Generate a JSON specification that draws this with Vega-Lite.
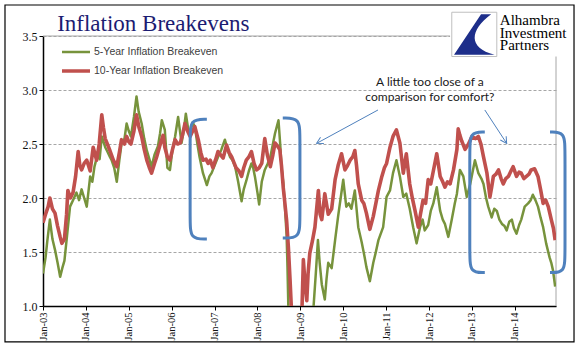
{
  "$schema": "https://vega.github.io/schema/vega-lite/v6.json",
  "width": 513,
  "height": 270,
  "autosize": {"type": "none"},
  "padding": {"left": 43, "top": 36, "right": 27, "bottom": 55},
  "background": "white",
  "config": {"view": {"stroke": null}},
  "datasets": {
    "lines": [
      {"s":"5-Year Inflation Breakeven","x":2003.00,"v":1.30},{"s":"5-Year Inflation Breakeven","x":2003.06,"v":1.45},{"s":"5-Year Inflation Breakeven","x":2003.10,"v":1.60},{"s":"5-Year Inflation Breakeven","x":2003.16,"v":1.80},{"s":"5-Year Inflation Breakeven","x":2003.22,"v":1.62},{"s":"5-Year Inflation Breakeven","x":2003.28,"v":1.52},{"s":"5-Year Inflation Breakeven","x":2003.34,"v":1.40},{"s":"5-Year Inflation Breakeven","x":2003.40,"v":1.27},{"s":"5-Year Inflation Breakeven","x":2003.45,"v":1.35},{"s":"5-Year Inflation Breakeven","x":2003.50,"v":1.42},{"s":"5-Year Inflation Breakeven","x":2003.56,"v":1.65},{"s":"5-Year Inflation Breakeven","x":2003.63,"v":1.92},{"s":"5-Year Inflation Breakeven","x":2003.70,"v":1.98},{"s":"5-Year Inflation Breakeven","x":2003.78,"v":2.05},{"s":"5-Year Inflation Breakeven","x":2003.84,"v":1.98},{"s":"5-Year Inflation Breakeven","x":2003.90,"v":2.08},{"s":"5-Year Inflation Breakeven","x":2003.96,"v":2.00},{"s":"5-Year Inflation Breakeven","x":2004.02,"v":1.92},{"s":"5-Year Inflation Breakeven","x":2004.10,"v":2.20},{"s":"5-Year Inflation Breakeven","x":2004.15,"v":2.15},{"s":"5-Year Inflation Breakeven","x":2004.20,"v":2.29},{"s":"5-Year Inflation Breakeven","x":2004.27,"v":2.40},{"s":"5-Year Inflation Breakeven","x":2004.32,"v":2.36},{"s":"5-Year Inflation Breakeven","x":2004.37,"v":2.57},{"s":"5-Year Inflation Breakeven","x":2004.45,"v":2.47},{"s":"5-Year Inflation Breakeven","x":2004.50,"v":2.43},{"s":"5-Year Inflation Breakeven","x":2004.56,"v":2.38},{"s":"5-Year Inflation Breakeven","x":2004.60,"v":2.35},{"s":"5-Year Inflation Breakeven","x":2004.66,"v":2.28},{"s":"5-Year Inflation Breakeven","x":2004.72,"v":2.15},{"s":"5-Year Inflation Breakeven","x":2004.78,"v":2.35},{"s":"5-Year Inflation Breakeven","x":2004.83,"v":2.50},{"s":"5-Year Inflation Breakeven","x":2004.90,"v":2.55},{"s":"5-Year Inflation Breakeven","x":2004.95,"v":2.69},{"s":"5-Year Inflation Breakeven","x":2005.00,"v":2.62},{"s":"5-Year Inflation Breakeven","x":2005.05,"v":2.57},{"s":"5-Year Inflation Breakeven","x":2005.12,"v":2.75},{"s":"5-Year Inflation Breakeven","x":2005.18,"v":2.94},{"s":"5-Year Inflation Breakeven","x":2005.23,"v":2.80},{"s":"5-Year Inflation Breakeven","x":2005.30,"v":2.69},{"s":"5-Year Inflation Breakeven","x":2005.36,"v":2.55},{"s":"5-Year Inflation Breakeven","x":2005.42,"v":2.44},{"s":"5-Year Inflation Breakeven","x":2005.48,"v":2.36},{"s":"5-Year Inflation Breakeven","x":2005.53,"v":2.29},{"s":"5-Year Inflation Breakeven","x":2005.60,"v":2.40},{"s":"5-Year Inflation Breakeven","x":2005.68,"v":2.48},{"s":"5-Year Inflation Breakeven","x":2005.73,"v":2.60},{"s":"5-Year Inflation Breakeven","x":2005.77,"v":2.72},{"s":"5-Year Inflation Breakeven","x":2005.84,"v":2.63},{"s":"5-Year Inflation Breakeven","x":2005.90,"v":2.28},{"s":"5-Year Inflation Breakeven","x":2005.96,"v":2.26},{"s":"5-Year Inflation Breakeven","x":2006.02,"v":2.45},{"s":"5-Year Inflation Breakeven","x":2006.08,"v":2.57},{"s":"5-Year Inflation Breakeven","x":2006.15,"v":2.75},{"s":"5-Year Inflation Breakeven","x":2006.23,"v":2.51},{"s":"5-Year Inflation Breakeven","x":2006.28,"v":2.62},{"s":"5-Year Inflation Breakeven","x":2006.33,"v":2.78},{"s":"5-Year Inflation Breakeven","x":2006.38,"v":2.65},{"s":"5-Year Inflation Breakeven","x":2006.43,"v":2.60},{"s":"5-Year Inflation Breakeven","x":2006.49,"v":2.70},{"s":"5-Year Inflation Breakeven","x":2006.54,"v":2.66},{"s":"5-Year Inflation Breakeven","x":2006.60,"v":2.50},{"s":"5-Year Inflation Breakeven","x":2006.65,"v":2.38},{"s":"5-Year Inflation Breakeven","x":2006.73,"v":2.23},{"s":"5-Year Inflation Breakeven","x":2006.82,"v":2.12},{"s":"5-Year Inflation Breakeven","x":2006.88,"v":2.20},{"s":"5-Year Inflation Breakeven","x":2006.93,"v":2.23},{"s":"5-Year Inflation Breakeven","x":2007.00,"v":2.30},{"s":"5-Year Inflation Breakeven","x":2007.08,"v":2.38},{"s":"5-Year Inflation Breakeven","x":2007.16,"v":2.45},{"s":"5-Year Inflation Breakeven","x":2007.24,"v":2.54},{"s":"5-Year Inflation Breakeven","x":2007.30,"v":2.45},{"s":"5-Year Inflation Breakeven","x":2007.36,"v":2.38},{"s":"5-Year Inflation Breakeven","x":2007.42,"v":2.35},{"s":"5-Year Inflation Breakeven","x":2007.48,"v":2.29},{"s":"5-Year Inflation Breakeven","x":2007.55,"v":2.15},{"s":"5-Year Inflation Breakeven","x":2007.63,"v":1.97},{"s":"5-Year Inflation Breakeven","x":2007.68,"v":2.08},{"s":"5-Year Inflation Breakeven","x":2007.74,"v":2.16},{"s":"5-Year Inflation Breakeven","x":2007.80,"v":2.25},{"s":"5-Year Inflation Breakeven","x":2007.86,"v":2.32},{"s":"5-Year Inflation Breakeven","x":2007.90,"v":2.28},{"s":"5-Year Inflation Breakeven","x":2007.94,"v":2.20},{"s":"5-Year Inflation Breakeven","x":2008.00,"v":2.05},{"s":"5-Year Inflation Breakeven","x":2008.04,"v":1.94},{"s":"5-Year Inflation Breakeven","x":2008.10,"v":2.15},{"s":"5-Year Inflation Breakeven","x":2008.17,"v":2.26},{"s":"5-Year Inflation Breakeven","x":2008.24,"v":2.32},{"s":"5-Year Inflation Breakeven","x":2008.30,"v":2.38},{"s":"5-Year Inflation Breakeven","x":2008.36,"v":2.50},{"s":"5-Year Inflation Breakeven","x":2008.41,"v":2.60},{"s":"5-Year Inflation Breakeven","x":2008.49,"v":2.72},{"s":"5-Year Inflation Breakeven","x":2008.53,"v":2.50},{"s":"5-Year Inflation Breakeven","x":2008.56,"v":2.29},{"s":"5-Year Inflation Breakeven","x":2008.60,"v":2.15},{"s":"5-Year Inflation Breakeven","x":2008.64,"v":1.92},{"s":"5-Year Inflation Breakeven","x":2008.68,"v":1.65},{"s":"5-Year Inflation Breakeven","x":2008.70,"v":1.36},{"s":"5-Year Inflation Breakeven","x":2008.73,"v":0.80},{"s":"5-Year Inflation Breakeven","x":2008.80,"v":0.20},{"s":"5-Year Inflation Breakeven","x":2009.00,"v":-0.50},{"s":"5-Year Inflation Breakeven","x":2009.20,"v":0.50},{"s":"5-Year Inflation Breakeven","x":2009.30,"v":0.95},{"s":"5-Year Inflation Breakeven","x":2009.36,"v":1.30},{"s":"5-Year Inflation Breakeven","x":2009.41,"v":1.61},{"s":"5-Year Inflation Breakeven","x":2009.45,"v":1.40},{"s":"5-Year Inflation Breakeven","x":2009.50,"v":1.20},{"s":"5-Year Inflation Breakeven","x":2009.57,"v":1.06},{"s":"5-Year Inflation Breakeven","x":2009.61,"v":1.25},{"s":"5-Year Inflation Breakeven","x":2009.65,"v":1.40},{"s":"5-Year Inflation Breakeven","x":2009.73,"v":1.35},{"s":"5-Year Inflation Breakeven","x":2009.81,"v":1.61},{"s":"5-Year Inflation Breakeven","x":2009.88,"v":1.83},{"s":"5-Year Inflation Breakeven","x":2009.94,"v":2.00},{"s":"5-Year Inflation Breakeven","x":2010.00,"v":2.17},{"s":"5-Year Inflation Breakeven","x":2010.07,"v":1.92},{"s":"5-Year Inflation Breakeven","x":2010.13,"v":1.95},{"s":"5-Year Inflation Breakeven","x":2010.19,"v":1.90},{"s":"5-Year Inflation Breakeven","x":2010.27,"v":2.07},{"s":"5-Year Inflation Breakeven","x":2010.35,"v":1.73},{"s":"5-Year Inflation Breakeven","x":2010.43,"v":1.59},{"s":"5-Year Inflation Breakeven","x":2010.50,"v":1.45},{"s":"5-Year Inflation Breakeven","x":2010.54,"v":1.36},{"s":"5-Year Inflation Breakeven","x":2010.62,"v":1.23},{"s":"5-Year Inflation Breakeven","x":2010.70,"v":1.40},{"s":"5-Year Inflation Breakeven","x":2010.76,"v":1.50},{"s":"5-Year Inflation Breakeven","x":2010.82,"v":1.61},{"s":"5-Year Inflation Breakeven","x":2010.93,"v":1.73},{"s":"5-Year Inflation Breakeven","x":2011.01,"v":2.01},{"s":"5-Year Inflation Breakeven","x":2011.09,"v":2.07},{"s":"5-Year Inflation Breakeven","x":2011.16,"v":2.23},{"s":"5-Year Inflation Breakeven","x":2011.24,"v":2.35},{"s":"5-Year Inflation Breakeven","x":2011.32,"v":2.20},{"s":"5-Year Inflation Breakeven","x":2011.40,"v":2.01},{"s":"5-Year Inflation Breakeven","x":2011.47,"v":2.04},{"s":"5-Year Inflation Breakeven","x":2011.55,"v":1.90},{"s":"5-Year Inflation Breakeven","x":2011.63,"v":1.73},{"s":"5-Year Inflation Breakeven","x":2011.71,"v":1.58},{"s":"5-Year Inflation Breakeven","x":2011.79,"v":1.73},{"s":"5-Year Inflation Breakeven","x":2011.85,"v":1.80},{"s":"5-Year Inflation Breakeven","x":2011.90,"v":1.70},{"s":"5-Year Inflation Breakeven","x":2011.98,"v":1.75},{"s":"5-Year Inflation Breakeven","x":2012.04,"v":1.88},{"s":"5-Year Inflation Breakeven","x":2012.10,"v":1.95},{"s":"5-Year Inflation Breakeven","x":2012.18,"v":2.10},{"s":"5-Year Inflation Breakeven","x":2012.26,"v":1.88},{"s":"5-Year Inflation Breakeven","x":2012.32,"v":1.80},{"s":"5-Year Inflation Breakeven","x":2012.37,"v":1.76},{"s":"5-Year Inflation Breakeven","x":2012.45,"v":1.64},{"s":"5-Year Inflation Breakeven","x":2012.53,"v":1.80},{"s":"5-Year Inflation Breakeven","x":2012.60,"v":1.95},{"s":"5-Year Inflation Breakeven","x":2012.65,"v":2.04},{"s":"5-Year Inflation Breakeven","x":2012.72,"v":2.26},{"s":"5-Year Inflation Breakeven","x":2012.80,"v":2.20},{"s":"5-Year Inflation Breakeven","x":2012.88,"v":2.01},{"s":"5-Year Inflation Breakeven","x":2012.96,"v":2.13},{"s":"5-Year Inflation Breakeven","x":2013.02,"v":2.25},{"s":"5-Year Inflation Breakeven","x":2013.07,"v":2.35},{"s":"5-Year Inflation Breakeven","x":2013.15,"v":2.23},{"s":"5-Year Inflation Breakeven","x":2013.22,"v":2.18},{"s":"5-Year Inflation Breakeven","x":2013.27,"v":2.13},{"s":"5-Year Inflation Breakeven","x":2013.33,"v":2.00},{"s":"5-Year Inflation Breakeven","x":2013.38,"v":1.92},{"s":"5-Year Inflation Breakeven","x":2013.46,"v":1.82},{"s":"5-Year Inflation Breakeven","x":2013.52,"v":1.90},{"s":"5-Year Inflation Breakeven","x":2013.58,"v":1.88},{"s":"5-Year Inflation Breakeven","x":2013.64,"v":1.80},{"s":"5-Year Inflation Breakeven","x":2013.70,"v":1.76},{"s":"5-Year Inflation Breakeven","x":2013.76,"v":1.74},{"s":"5-Year Inflation Breakeven","x":2013.81,"v":1.70},{"s":"5-Year Inflation Breakeven","x":2013.87,"v":1.78},{"s":"5-Year Inflation Breakeven","x":2013.93,"v":1.80},{"s":"5-Year Inflation Breakeven","x":2013.98,"v":1.72},{"s":"5-Year Inflation Breakeven","x":2014.04,"v":1.67},{"s":"5-Year Inflation Breakeven","x":2014.10,"v":1.75},{"s":"5-Year Inflation Breakeven","x":2014.15,"v":1.80},{"s":"5-Year Inflation Breakeven","x":2014.23,"v":1.92},{"s":"5-Year Inflation Breakeven","x":2014.31,"v":1.95},{"s":"5-Year Inflation Breakeven","x":2014.37,"v":1.98},{"s":"5-Year Inflation Breakeven","x":2014.42,"v":2.03},{"s":"5-Year Inflation Breakeven","x":2014.48,"v":1.98},{"s":"5-Year Inflation Breakeven","x":2014.54,"v":1.92},{"s":"5-Year Inflation Breakeven","x":2014.60,"v":1.82},{"s":"5-Year Inflation Breakeven","x":2014.66,"v":1.73},{"s":"5-Year Inflation Breakeven","x":2014.73,"v":1.58},{"s":"5-Year Inflation Breakeven","x":2014.81,"v":1.45},{"s":"5-Year Inflation Breakeven","x":2014.85,"v":1.40},{"s":"5-Year Inflation Breakeven","x":2014.89,"v":1.33},{"s":"5-Year Inflation Breakeven","x":2014.94,"v":1.18},
      {"s":"10-Year Inflation Breakeven","x":2003.00,"v":1.77},{"s":"10-Year Inflation Breakeven","x":2003.06,"v":1.85},{"s":"10-Year Inflation Breakeven","x":2003.12,"v":1.92},{"s":"10-Year Inflation Breakeven","x":2003.16,"v":2.00},{"s":"10-Year Inflation Breakeven","x":2003.22,"v":1.90},{"s":"10-Year Inflation Breakeven","x":2003.28,"v":1.86},{"s":"10-Year Inflation Breakeven","x":2003.34,"v":1.74},{"s":"10-Year Inflation Breakeven","x":2003.40,"v":1.64},{"s":"10-Year Inflation Breakeven","x":2003.44,"v":1.58},{"s":"10-Year Inflation Breakeven","x":2003.50,"v":1.62},{"s":"10-Year Inflation Breakeven","x":2003.55,"v":1.85},{"s":"10-Year Inflation Breakeven","x":2003.58,"v":2.07},{"s":"10-Year Inflation Breakeven","x":2003.64,"v":2.00},{"s":"10-Year Inflation Breakeven","x":2003.70,"v":2.05},{"s":"10-Year Inflation Breakeven","x":2003.76,"v":2.20},{"s":"10-Year Inflation Breakeven","x":2003.82,"v":2.43},{"s":"10-Year Inflation Breakeven","x":2003.86,"v":2.30},{"s":"10-Year Inflation Breakeven","x":2003.90,"v":2.26},{"s":"10-Year Inflation Breakeven","x":2003.96,"v":2.32},{"s":"10-Year Inflation Breakeven","x":2004.02,"v":2.35},{"s":"10-Year Inflation Breakeven","x":2004.10,"v":2.25},{"s":"10-Year Inflation Breakeven","x":2004.17,"v":2.47},{"s":"10-Year Inflation Breakeven","x":2004.25,"v":2.35},{"s":"10-Year Inflation Breakeven","x":2004.31,"v":2.50},{"s":"10-Year Inflation Breakeven","x":2004.37,"v":2.77},{"s":"10-Year Inflation Breakeven","x":2004.41,"v":2.65},{"s":"10-Year Inflation Breakeven","x":2004.45,"v":2.55},{"s":"10-Year Inflation Breakeven","x":2004.50,"v":2.50},{"s":"10-Year Inflation Breakeven","x":2004.56,"v":2.44},{"s":"10-Year Inflation Breakeven","x":2004.64,"v":2.35},{"s":"10-Year Inflation Breakeven","x":2004.72,"v":2.29},{"s":"10-Year Inflation Breakeven","x":2004.78,"v":2.42},{"s":"10-Year Inflation Breakeven","x":2004.83,"v":2.54},{"s":"10-Year Inflation Breakeven","x":2004.90,"v":2.50},{"s":"10-Year Inflation Breakeven","x":2004.95,"v":2.57},{"s":"10-Year Inflation Breakeven","x":2005.00,"v":2.52},{"s":"10-Year Inflation Breakeven","x":2005.05,"v":2.50},{"s":"10-Year Inflation Breakeven","x":2005.12,"v":2.62},{"s":"10-Year Inflation Breakeven","x":2005.18,"v":2.77},{"s":"10-Year Inflation Breakeven","x":2005.24,"v":2.65},{"s":"10-Year Inflation Breakeven","x":2005.30,"v":2.57},{"s":"10-Year Inflation Breakeven","x":2005.36,"v":2.45},{"s":"10-Year Inflation Breakeven","x":2005.42,"v":2.35},{"s":"10-Year Inflation Breakeven","x":2005.48,"v":2.28},{"s":"10-Year Inflation Breakeven","x":2005.53,"v":2.23},{"s":"10-Year Inflation Breakeven","x":2005.60,"v":2.32},{"s":"10-Year Inflation Breakeven","x":2005.65,"v":2.38},{"s":"10-Year Inflation Breakeven","x":2005.72,"v":2.48},{"s":"10-Year Inflation Breakeven","x":2005.80,"v":2.58},{"s":"10-Year Inflation Breakeven","x":2005.84,"v":2.47},{"s":"10-Year Inflation Breakeven","x":2005.90,"v":2.38},{"s":"10-Year Inflation Breakeven","x":2005.96,"v":2.35},{"s":"10-Year Inflation Breakeven","x":2006.02,"v":2.45},{"s":"10-Year Inflation Breakeven","x":2006.08,"v":2.54},{"s":"10-Year Inflation Breakeven","x":2006.14,"v":2.50},{"s":"10-Year Inflation Breakeven","x":2006.20,"v":2.51},{"s":"10-Year Inflation Breakeven","x":2006.25,"v":2.58},{"s":"10-Year Inflation Breakeven","x":2006.31,"v":2.69},{"s":"10-Year Inflation Breakeven","x":2006.37,"v":2.62},{"s":"10-Year Inflation Breakeven","x":2006.43,"v":2.57},{"s":"10-Year Inflation Breakeven","x":2006.49,"v":2.62},{"s":"10-Year Inflation Breakeven","x":2006.54,"v":2.66},{"s":"10-Year Inflation Breakeven","x":2006.62,"v":2.54},{"s":"10-Year Inflation Breakeven","x":2006.68,"v":2.42},{"s":"10-Year Inflation Breakeven","x":2006.73,"v":2.35},{"s":"10-Year Inflation Breakeven","x":2006.80,"v":2.36},{"s":"10-Year Inflation Breakeven","x":2006.85,"v":2.32},{"s":"10-Year Inflation Breakeven","x":2006.90,"v":2.35},{"s":"10-Year Inflation Breakeven","x":2006.96,"v":2.28},{"s":"10-Year Inflation Breakeven","x":2007.02,"v":2.35},{"s":"10-Year Inflation Breakeven","x":2007.08,"v":2.43},{"s":"10-Year Inflation Breakeven","x":2007.14,"v":2.40},{"s":"10-Year Inflation Breakeven","x":2007.20,"v":2.37},{"s":"10-Year Inflation Breakeven","x":2007.28,"v":2.49},{"s":"10-Year Inflation Breakeven","x":2007.34,"v":2.42},{"s":"10-Year Inflation Breakeven","x":2007.40,"v":2.38},{"s":"10-Year Inflation Breakeven","x":2007.45,"v":2.33},{"s":"10-Year Inflation Breakeven","x":2007.50,"v":2.28},{"s":"10-Year Inflation Breakeven","x":2007.57,"v":2.25},{"s":"10-Year Inflation Breakeven","x":2007.63,"v":2.20},{"s":"10-Year Inflation Breakeven","x":2007.68,"v":2.28},{"s":"10-Year Inflation Breakeven","x":2007.74,"v":2.35},{"s":"10-Year Inflation Breakeven","x":2007.80,"v":2.38},{"s":"10-Year Inflation Breakeven","x":2007.86,"v":2.43},{"s":"10-Year Inflation Breakeven","x":2007.92,"v":2.32},{"s":"10-Year Inflation Breakeven","x":2007.98,"v":2.26},{"s":"10-Year Inflation Breakeven","x":2008.04,"v":2.28},{"s":"10-Year Inflation Breakeven","x":2008.10,"v":2.32},{"s":"10-Year Inflation Breakeven","x":2008.17,"v":2.55},{"s":"10-Year Inflation Breakeven","x":2008.23,"v":2.40},{"s":"10-Year Inflation Breakeven","x":2008.30,"v":2.29},{"s":"10-Year Inflation Breakeven","x":2008.36,"v":2.40},{"s":"10-Year Inflation Breakeven","x":2008.41,"v":2.51},{"s":"10-Year Inflation Breakeven","x":2008.47,"v":2.48},{"s":"10-Year Inflation Breakeven","x":2008.52,"v":2.45},{"s":"10-Year Inflation Breakeven","x":2008.56,"v":2.30},{"s":"10-Year Inflation Breakeven","x":2008.60,"v":2.10},{"s":"10-Year Inflation Breakeven","x":2008.64,"v":1.95},{"s":"10-Year Inflation Breakeven","x":2008.68,"v":1.79},{"s":"10-Year Inflation Breakeven","x":2008.72,"v":1.55},{"s":"10-Year Inflation Breakeven","x":2008.76,"v":1.24},{"s":"10-Year Inflation Breakeven","x":2008.80,"v":0.90},{"s":"10-Year Inflation Breakeven","x":2008.90,"v":0.50},{"s":"10-Year Inflation Breakeven","x":2009.00,"v":0.80},{"s":"10-Year Inflation Breakeven","x":2009.04,"v":1.00},{"s":"10-Year Inflation Breakeven","x":2009.07,"v":1.43},{"s":"10-Year Inflation Breakeven","x":2009.11,"v":1.20},{"s":"10-Year Inflation Breakeven","x":2009.15,"v":1.05},{"s":"10-Year Inflation Breakeven","x":2009.18,"v":1.30},{"s":"10-Year Inflation Breakeven","x":2009.22,"v":1.49},{"s":"10-Year Inflation Breakeven","x":2009.28,"v":1.60},{"s":"10-Year Inflation Breakeven","x":2009.34,"v":1.73},{"s":"10-Year Inflation Breakeven","x":2009.42,"v":2.07},{"s":"10-Year Inflation Breakeven","x":2009.46,"v":1.85},{"s":"10-Year Inflation Breakeven","x":2009.50,"v":1.80},{"s":"10-Year Inflation Breakeven","x":2009.57,"v":2.04},{"s":"10-Year Inflation Breakeven","x":2009.65,"v":1.85},{"s":"10-Year Inflation Breakeven","x":2009.73,"v":1.90},{"s":"10-Year Inflation Breakeven","x":2009.81,"v":2.17},{"s":"10-Year Inflation Breakeven","x":2009.88,"v":2.30},{"s":"10-Year Inflation Breakeven","x":2009.96,"v":2.41},{"s":"10-Year Inflation Breakeven","x":2010.04,"v":2.26},{"s":"10-Year Inflation Breakeven","x":2010.10,"v":2.30},{"s":"10-Year Inflation Breakeven","x":2010.16,"v":2.35},{"s":"10-Year Inflation Breakeven","x":2010.22,"v":2.38},{"s":"10-Year Inflation Breakeven","x":2010.27,"v":2.44},{"s":"10-Year Inflation Breakeven","x":2010.31,"v":2.30},{"s":"10-Year Inflation Breakeven","x":2010.35,"v":2.13},{"s":"10-Year Inflation Breakeven","x":2010.43,"v":1.98},{"s":"10-Year Inflation Breakeven","x":2010.48,"v":1.95},{"s":"10-Year Inflation Breakeven","x":2010.54,"v":1.86},{"s":"10-Year Inflation Breakeven","x":2010.62,"v":1.71},{"s":"10-Year Inflation Breakeven","x":2010.70,"v":1.83},{"s":"10-Year Inflation Breakeven","x":2010.76,"v":1.95},{"s":"10-Year Inflation Breakeven","x":2010.82,"v":2.07},{"s":"10-Year Inflation Breakeven","x":2010.90,"v":2.20},{"s":"10-Year Inflation Breakeven","x":2010.96,"v":2.28},{"s":"10-Year Inflation Breakeven","x":2011.01,"v":2.32},{"s":"10-Year Inflation Breakeven","x":2011.09,"v":2.47},{"s":"10-Year Inflation Breakeven","x":2011.16,"v":2.57},{"s":"10-Year Inflation Breakeven","x":2011.24,"v":2.63},{"s":"10-Year Inflation Breakeven","x":2011.32,"v":2.51},{"s":"10-Year Inflation Breakeven","x":2011.40,"v":2.23},{"s":"10-Year Inflation Breakeven","x":2011.47,"v":2.41},{"s":"10-Year Inflation Breakeven","x":2011.55,"v":2.13},{"s":"10-Year Inflation Breakeven","x":2011.61,"v":2.00},{"s":"10-Year Inflation Breakeven","x":2011.67,"v":1.89},{"s":"10-Year Inflation Breakeven","x":2011.75,"v":1.73},{"s":"10-Year Inflation Breakeven","x":2011.80,"v":1.85},{"s":"10-Year Inflation Breakeven","x":2011.86,"v":1.98},{"s":"10-Year Inflation Breakeven","x":2011.92,"v":1.95},{"s":"10-Year Inflation Breakeven","x":2011.98,"v":2.17},{"s":"10-Year Inflation Breakeven","x":2012.04,"v":2.13},{"s":"10-Year Inflation Breakeven","x":2012.10,"v":2.25},{"s":"10-Year Inflation Breakeven","x":2012.18,"v":2.41},{"s":"10-Year Inflation Breakeven","x":2012.26,"v":2.20},{"s":"10-Year Inflation Breakeven","x":2012.32,"v":2.15},{"s":"10-Year Inflation Breakeven","x":2012.37,"v":2.10},{"s":"10-Year Inflation Breakeven","x":2012.43,"v":2.15},{"s":"10-Year Inflation Breakeven","x":2012.49,"v":2.13},{"s":"10-Year Inflation Breakeven","x":2012.57,"v":2.26},{"s":"10-Year Inflation Breakeven","x":2012.65,"v":2.45},{"s":"10-Year Inflation Breakeven","x":2012.68,"v":2.64},{"s":"10-Year Inflation Breakeven","x":2012.72,"v":2.58},{"s":"10-Year Inflation Breakeven","x":2012.76,"v":2.53},{"s":"10-Year Inflation Breakeven","x":2012.84,"v":2.45},{"s":"10-Year Inflation Breakeven","x":2012.92,"v":2.50},{"s":"10-Year Inflation Breakeven","x":2013.00,"v":2.57},{"s":"10-Year Inflation Breakeven","x":2013.08,"v":2.55},{"s":"10-Year Inflation Breakeven","x":2013.15,"v":2.57},{"s":"10-Year Inflation Breakeven","x":2013.21,"v":2.50},{"s":"10-Year Inflation Breakeven","x":2013.27,"v":2.38},{"s":"10-Year Inflation Breakeven","x":2013.35,"v":2.23},{"s":"10-Year Inflation Breakeven","x":2013.42,"v":2.01},{"s":"10-Year Inflation Breakeven","x":2013.46,"v":2.10},{"s":"10-Year Inflation Breakeven","x":2013.50,"v":2.20},{"s":"10-Year Inflation Breakeven","x":2013.56,"v":2.22},{"s":"10-Year Inflation Breakeven","x":2013.62,"v":2.26},{"s":"10-Year Inflation Breakeven","x":2013.68,"v":2.18},{"s":"10-Year Inflation Breakeven","x":2013.73,"v":2.13},{"s":"10-Year Inflation Breakeven","x":2013.79,"v":2.18},{"s":"10-Year Inflation Breakeven","x":2013.85,"v":2.20},{"s":"10-Year Inflation Breakeven","x":2013.91,"v":2.25},{"s":"10-Year Inflation Breakeven","x":2013.96,"v":2.29},{"s":"10-Year Inflation Breakeven","x":2014.04,"v":2.20},{"s":"10-Year Inflation Breakeven","x":2014.10,"v":2.24},{"s":"10-Year Inflation Breakeven","x":2014.15,"v":2.23},{"s":"10-Year Inflation Breakeven","x":2014.21,"v":2.18},{"s":"10-Year Inflation Breakeven","x":2014.27,"v":2.20},{"s":"10-Year Inflation Breakeven","x":2014.33,"v":2.22},{"s":"10-Year Inflation Breakeven","x":2014.38,"v":2.26},{"s":"10-Year Inflation Breakeven","x":2014.46,"v":2.27},{"s":"10-Year Inflation Breakeven","x":2014.54,"v":2.20},{"s":"10-Year Inflation Breakeven","x":2014.60,"v":2.08},{"s":"10-Year Inflation Breakeven","x":2014.66,"v":1.95},{"s":"10-Year Inflation Breakeven","x":2014.72,"v":1.98},{"s":"10-Year Inflation Breakeven","x":2014.78,"v":1.92},{"s":"10-Year Inflation Breakeven","x":2014.85,"v":1.80},{"s":"10-Year Inflation Breakeven","x":2014.90,"v":1.72},{"s":"10-Year Inflation Breakeven","x":2014.94,"v":1.61}
    ],
    "brackets": [
      {"b":"A","o":0,"x":2006.82,"v":2.73},{"b":"A","o":1,"x":2006.43,"v":2.73},{"b":"A","o":2,"x":2006.43,"v":2.56},{"b":"A","o":3,"x":2006.43,"v":1.79},{"b":"A","o":4,"x":2006.43,"v":1.62},{"b":"A","o":5,"x":2006.82,"v":1.62},
      {"b":"B","o":0,"x":2008.59,"v":2.74},{"b":"B","o":1,"x":2008.99,"v":2.74},{"b":"B","o":2,"x":2008.99,"v":2.57},{"b":"B","o":3,"x":2008.99,"v":1.80},{"b":"B","o":4,"x":2008.99,"v":1.63},{"b":"B","o":5,"x":2008.59,"v":1.63},
      {"b":"C","o":0,"x":2013.30,"v":2.61},{"b":"C","o":1,"x":2012.95,"v":2.61},{"b":"C","o":2,"x":2012.95,"v":2.44},{"b":"C","o":3,"x":2012.95,"v":1.48},{"b":"C","o":4,"x":2012.95,"v":1.31},{"b":"C","o":5,"x":2013.30,"v":1.31},
      {"b":"D","o":0,"x":2014.82,"v":2.61},{"b":"D","o":1,"x":2015.17,"v":2.61},{"b":"D","o":2,"x":2015.17,"v":2.44},{"b":"D","o":3,"x":2015.17,"v":1.48},{"b":"D","o":4,"x":2015.17,"v":1.31},{"b":"D","o":5,"x":2014.82,"v":1.31}
    ],
    "arrows": [
      {"id":1,"x1":2010.81,"v1":2.815,"x2":2009.38,"v2":2.506},
      {"id":2,"x1":2013.30,"v1":2.815,"x2":2013.81,"v2":2.506}
    ],
    "notes": [
      {"x":2012.02,"v":3.077,"t":"A little too close of a"},
      {"x":2012.02,"v":2.938,"t":"comparison for comfort?"}
    ],
    "heading": [
      {"x":2003.33,"v":3.546,"t":"Inflation Breakevens"}
    ],
    "borders": [
      {"x1":2003.0,"x2":2012.49,"v1":3.5,"v2":3.5},
      {"x1":2014.96,"x2":2014.96,"v1":1.0,"v2":3.31}
    ],
    "logobox": [
      {"x1":2012.49,"x2":2015.33,"v1":3.31,"v2":3.75}
    ],
    "logosq": [
      {"x1":2012.53,"x2":2013.58,"v1":3.31,"v2":3.72}
    ],
    "logomark": [
      {"x":2013.055,"v":3.515}
    ],
    "logotext": [
      {"x":2013.65,"v":3.602,"t":"Alhambra"},
      {"x":2013.65,"v":3.486,"t":"Investment"},
      {"x":2013.65,"v":3.37,"t":"Partners"}
    ],
    "frame": [
      {"x1":2002.114,"x2":2015.38,"v1":3.787,"v2":0.667}
    ]
  },
  "layer": [
    {
      "data": {"name": "logobox"},
      "mark": {"type": "rect", "fill": "white", "clip": false},
      "encoding": {
        "x": {"field": "x1", "type": "quantitative", "title": null, "scale": {"domain": [2003, 2014.96], "nice": false, "zero": false}},
        "x2": {"field": "x2"},
        "y": {"field": "v1", "type": "quantitative", "title": null, "scale": {"domain": [1, 3.5], "nice": false, "zero": false}},
        "y2": {"field": "v2"}
      }
    },
    {
      "data": {"name": "borders"},
      "mark": {"type": "rule", "color": "#a6a6a6", "strokeWidth": 1, "clip": false},
      "encoding": {
        "x": {"field": "x1", "type": "quantitative", "title": null, "scale": {"domain": [2003, 2014.96], "nice": false, "zero": false}},
        "x2": {"field": "x2"},
        "y": {"field": "v1", "type": "quantitative", "title": null, "scale": {"domain": [1, 3.5], "nice": false, "zero": false}},
        "y2": {"field": "v2"}
      }
    },
    {
      "data": {"name": "lines"},
      "transform": [{"filter": "datum.s === '5-Year Inflation Breakeven'"}],
      "mark": {"type": "line", "clip": true, "strokeJoin": "round"},
      "encoding": {
        "x": {
          "field": "x", "type": "quantitative", "title": null,
          "scale": {"domain": [2003, 2014.96], "nice": false, "zero": false},
          "axis": {
            "title": null,
            "values": [2003, 2004, 2005, 2006, 2007, 2008, 2009, 2010, 2011, 2012, 2013, 2014],
            "labelExpr": "'Jan-' + substring(toString(datum.value), 2, 4)",
            "labelAngle": 270,
            "labelAlign": "right",
            "labelBaseline": "middle",
            "labelFont": "Liberation Serif",
            "labelFontSize": 10.5,
            "labelColor": "#111",
            "labelPadding": 2,
            "labelOverlap": false,
            "grid": false,
            "domainColor": "#000",
            "domainWidth": 1.5,
            "tickColor": "#000",
            "tickSize": 4,
            "tickWidth": 1
          }
        },
        "y": {
          "field": "v", "type": "quantitative", "title": null,
          "scale": {"domain": [1, 3.5], "nice": false, "zero": false},
          "axis": {
            "title": null,
            "values": [1, 1.5, 2, 2.5, 3, 3.5],
            "format": ".1f",
            "labelFont": "Liberation Serif",
            "labelFontSize": 12,
            "labelColor": "#111",
            "labelPadding": 2,
            "grid": true,
            "gridColor": "#a6a6a6",
            "gridDash": [3, 2],
            "gridWidth": 1,
            "domainColor": "#000",
            "domainWidth": 1.5,
            "tickColor": "#000",
            "tickSize": 4,
            "tickWidth": 1
          }
        },
        "color": {
          "field": "s", "type": "nominal",
          "scale": {"domain": ["5-Year Inflation Breakeven", "10-Year Inflation Breakeven"], "range": ["#77933c", "#c0504d"]},
          "legend": {
            "title": null,
            "orient": "none",
            "legendX": 17,
            "legendY": 8,
            "padding": 0,
            "direction": "vertical",
            "symbolType": "stroke",
            "symbolSize": 784,
            "clipHeight": 16,
            "rowPadding": 3,
            "labelOffset": 2,
            "labelFont": "Liberation Sans",
            "labelFontSize": 10.5,
            "labelColor": "#404040"
          }
        },
        "strokeWidth": {
          "field": "s", "type": "nominal",
          "scale": {"domain": ["5-Year Inflation Breakeven", "10-Year Inflation Breakeven"], "range": [2.5, 3.6]},
          "legend": {
            "title": null,
            "orient": "none",
            "legendX": 17,
            "legendY": 8,
            "padding": 0,
            "direction": "vertical",
            "symbolType": "stroke",
            "symbolSize": 784,
            "clipHeight": 16,
            "rowPadding": 3,
            "labelOffset": 2,
            "labelFont": "Liberation Sans",
            "labelFontSize": 10.5,
            "labelColor": "#404040"
          }
        }
      }
    },
    {
      "data": {"name": "lines"},
      "transform": [{"filter": "datum.s === '10-Year Inflation Breakeven'"}],
      "mark": {"type": "line", "clip": true, "strokeJoin": "round"},
      "encoding": {
        "x": {"field": "x", "type": "quantitative", "title": null, "scale": {"domain": [2003, 2014.96], "nice": false, "zero": false}},
        "y": {"field": "v", "type": "quantitative", "title": null, "scale": {"domain": [1, 3.5], "nice": false, "zero": false}},
        "color": {"field": "s", "type": "nominal"},
        "strokeWidth": {"field": "s", "type": "nominal"}
      }
    },
    {
      "data": {"name": "brackets"},
      "mark": {"type": "line", "interpolate": "basis", "color": "#4f81bd", "strokeWidth": 3, "clip": false, "strokeCap": "butt"},
      "encoding": {
        "x": {"field": "x", "type": "quantitative", "title": null, "scale": {"domain": [2003, 2014.96], "nice": false, "zero": false}},
        "y": {"field": "v", "type": "quantitative", "title": null, "scale": {"domain": [1, 3.5], "nice": false, "zero": false}},
        "detail": {"field": "b", "type": "nominal"},
        "order": {"field": "o", "type": "quantitative"}
      }
    },
    {
      "data": {"name": "arrows"},
      "mark": {"type": "rule", "color": "#4f81bd", "strokeWidth": 1, "clip": false},
      "encoding": {
        "x": {"field": "x1", "type": "quantitative", "title": null, "scale": {"domain": [2003, 2014.96], "nice": false, "zero": false}},
        "x2": {"field": "x2"},
        "y": {"field": "v1", "type": "quantitative", "title": null, "scale": {"domain": [1, 3.5], "nice": false, "zero": false}},
        "y2": {"field": "v2"}
      }
    },
    {
      "data": {"name": "arrows"},
      "transform": [{"filter": "datum.id === 1"}],
      "mark": {"type": "point", "shape": "M -0.5 0.9 L 0 0 L 0.5 0.9", "filled": false, "stroke": "#4f81bd", "strokeWidth": 1, "size": 196, "angle": 241.5, "opacity": 1, "clip": false},
      "encoding": {
        "x": {"field": "x2", "type": "quantitative", "title": null, "scale": {"domain": [2003, 2014.96], "nice": false, "zero": false}},
        "y": {"field": "v2", "type": "quantitative", "title": null, "scale": {"domain": [1, 3.5], "nice": false, "zero": false}}
      }
    },
    {
      "data": {"name": "arrows"},
      "transform": [{"filter": "datum.id === 2"}],
      "mark": {"type": "point", "shape": "M -0.5 0.9 L 0 0 L 0.5 0.9", "filled": false, "stroke": "#4f81bd", "strokeWidth": 1, "size": 196, "angle": 146.9, "opacity": 1, "clip": false},
      "encoding": {
        "x": {"field": "x2", "type": "quantitative", "title": null, "scale": {"domain": [2003, 2014.96], "nice": false, "zero": false}},
        "y": {"field": "v2", "type": "quantitative", "title": null, "scale": {"domain": [1, 3.5], "nice": false, "zero": false}}
      }
    },
    {
      "data": {"name": "notes"},
      "mark": {"type": "text", "font": "Lato", "fontSize": 12, "color": "#1a1a1a", "align": "center", "baseline": "middle", "clip": false},
      "encoding": {
        "x": {"field": "x", "type": "quantitative", "title": null, "scale": {"domain": [2003, 2014.96], "nice": false, "zero": false}},
        "y": {"field": "v", "type": "quantitative", "title": null, "scale": {"domain": [1, 3.5], "nice": false, "zero": false}},
        "text": {"field": "t", "type": "nominal"}
      }
    },
    {
      "data": {"name": "heading"},
      "mark": {"type": "text", "font": "Liberation Serif", "fontSize": 23, "color": "#1c1c72", "align": "left", "baseline": "alphabetic", "clip": false},
      "encoding": {
        "x": {"field": "x", "type": "quantitative", "title": null, "scale": {"domain": [2003, 2014.96], "nice": false, "zero": false}},
        "y": {"field": "v", "type": "quantitative", "title": null, "scale": {"domain": [1, 3.5], "nice": false, "zero": false}},
        "text": {"field": "t", "type": "nominal"}
      }
    },
    {
      "data": {"name": "logosq"},
      "mark": {"type": "rect", "fill": "white", "stroke": "#bfbfbf", "strokeWidth": 1, "clip": false},
      "encoding": {
        "x": {"field": "x1", "type": "quantitative", "title": null, "scale": {"domain": [2003, 2014.96], "nice": false, "zero": false}},
        "x2": {"field": "x2"},
        "y": {"field": "v1", "type": "quantitative", "title": null, "scale": {"domain": [1, 3.5], "nice": false, "zero": false}},
        "y2": {"field": "v2"}
      }
    },
    {
      "data": {"name": "logomark"},
      "mark": {"type": "point", "shape": "M 0.3 -0.9 L 0.75 -0.9 C -0.2 -0.2 -0.3 0.6 0.9 0.9 L -0.9 0.9 Z", "filled": true, "color": "#1d2e8a", "size": 2025, "opacity": 1, "clip": false},
      "encoding": {
        "x": {"field": "x", "type": "quantitative", "title": null, "scale": {"domain": [2003, 2014.96], "nice": false, "zero": false}},
        "y": {"field": "v", "type": "quantitative", "title": null, "scale": {"domain": [1, 3.5], "nice": false, "zero": false}}
      }
    },
    {
      "data": {"name": "logotext"},
      "mark": {"type": "text", "font": "Liberation Serif", "fontSize": 15, "color": "#000", "align": "left", "baseline": "alphabetic", "clip": false},
      "encoding": {
        "x": {"field": "x", "type": "quantitative", "title": null, "scale": {"domain": [2003, 2014.96], "nice": false, "zero": false}},
        "y": {"field": "v", "type": "quantitative", "title": null, "scale": {"domain": [1, 3.5], "nice": false, "zero": false}},
        "text": {"field": "t", "type": "nominal"}
      }
    },
    {
      "data": {"name": "frame"},
      "mark": {"type": "rect", "fillOpacity": 0, "stroke": "#000", "strokeWidth": 1.2, "clip": false},
      "encoding": {
        "x": {"field": "x1", "type": "quantitative", "title": null, "scale": {"domain": [2003, 2014.96], "nice": false, "zero": false}},
        "x2": {"field": "x2"},
        "y": {"field": "v1", "type": "quantitative", "title": null, "scale": {"domain": [1, 3.5], "nice": false, "zero": false}},
        "y2": {"field": "v2"}
      }
    }
  ]
}
